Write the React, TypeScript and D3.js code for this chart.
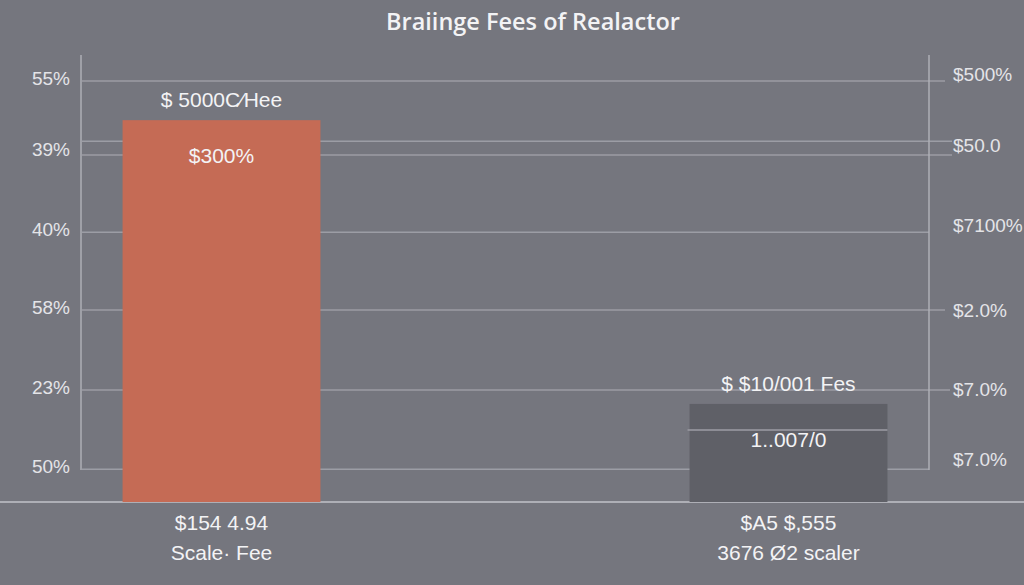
import React from "react";
import * as d3 from "d3";

const W = 1024;
const H = 585;

const categories = ["Scale Fee", "scaler"];
const barValues = [90.7, 23.3];
const barColors = ["#c56b55", "#5f6067"];
const innerLineValues = [null, 17.1];
const topLabels = ["$ 5000C\u2044Hee", "$ $10/001 Fes"];
const innerLabels = ["$300%", "1..007/0"];
const bottomValues = ["$154 4.94", "$A5 $,555"];
const bottomNames = ["Scale\u00b7 Fee", "3676 \u00d82 scaler"];

const gridValues = [100, 85.7, 82.4, 64.1, 45.6, 26.6, 7.8];
const gridRightEnd = [945, 952, 952, 929, 945, 950, 929];
const leftTickValues = [100, 83.2, 64.1, 45.6, 26.6, 7.8];
const leftTickLabels = ["55%", "39%", "40%", "58%", "23%", "50%"];
const rightTickValues = [101, 84.0, 65.2, 45.0, 26.2, 9.5];
const rightTickLabels = ["$500%", "$50.0", "$7100%", "$2.0%", "$7.0%", "$7.0%"];

export default function App() {
  const y = d3.scaleLinear().domain([0, 100]).range([502, 81]);
  const x = d3
    .scaleBand<string>()
    .domain(categories)
    .range([81, 929])
    .paddingInner(0.651)
    .paddingOuter(0.0733);

  const titleFont = "'Open Sans', 'Noto Sans', sans-serif";
  const font = "'Liberation Sans', Arial, sans-serif";
  const textColor = "#f3f3f5";
  const tickColor = "#e4e4e8";
  const gridColor = "#9c9da5";
  const axisColor = "#aeafb6";

  return (
    <svg
      width={W}
      height={H}
      style={{ position: "absolute", left: 0, top: 0, display: "block" }}
      fontFamily={font}
    >
      <rect x={0} y={0} width={W} height={H} fill="#75767e" />
      <text
        x={533}
        y={30}
        textAnchor="middle"
        fontSize={23.5}
        fontWeight={600}
        fontFamily={titleFont}
        fill={textColor}
      >
        Braiinge Fees of Realactor
      </text>

      {gridValues.map((v, i) => (
        <line
          key={"g" + i}
          x1={82}
          x2={gridRightEnd[i]}
          y1={y(v)}
          y2={y(v)}
          stroke={gridColor}
          strokeWidth={1.5}
        />
      ))}

      <line x1={0} x2={W} y1={y(0)} y2={y(0)} stroke={axisColor} strokeWidth={2} />
      <line x1={81} x2={81} y1={55} y2={470} stroke={axisColor} strokeWidth={1.5} />
      <line x1={929} x2={929} y1={55} y2={470} stroke={axisColor} strokeWidth={1.5} />

      {categories.map((c, i) => {
        const bx = x(c) as number;
        const bw = x.bandwidth();
        const cx = bx + bw / 2;
        const inner = innerLineValues[i];
        return (
          <g key={c}>
            <rect
              x={bx}
              y={y(barValues[i])}
              width={bw}
              height={y(0) - y(barValues[i])}
              fill={barColors[i]}
            />
            {inner !== null && (
              <line
                x1={bx - 2}
                x2={bx + bw}
                y1={y(inner as number)}
                y2={y(inner as number)}
                stroke={gridColor}
                strokeWidth={1.5}
              />
            )}
            <text
              x={cx}
              y={y(barValues[i]) - 13}
              textAnchor="middle"
              fontSize={21}
              fill={textColor}
            >
              {topLabels[i]}
            </text>
            <text
              x={cx}
              y={y(barValues[i]) + 43}
              textAnchor="middle"
              fontSize={21}
              fill={textColor}
            >
              {innerLabels[i]}
            </text>
            <text x={cx} y={530} textAnchor="middle" fontSize={21} fill={textColor}>
              {bottomValues[i]}
            </text>
            <text x={cx} y={560} textAnchor="middle" fontSize={21} fill={textColor}>
              {bottomNames[i]}
            </text>
          </g>
        );
      })}

      {leftTickValues.map((v, i) => (
        <text
          key={"l" + i}
          x={70}
          y={y(v) + 4}
          textAnchor="end"
          fontSize={19}
          fill={tickColor}
        >
          {leftTickLabels[i]}
        </text>
      ))}
      {rightTickValues.map((v, i) => (
        <text
          key={"r" + i}
          x={953}
          y={y(v) + 4}
          textAnchor="start"
          fontSize={19}
          fill={tickColor}
        >
          {rightTickLabels[i]}
        </text>
      ))}
    </svg>
  );
}
